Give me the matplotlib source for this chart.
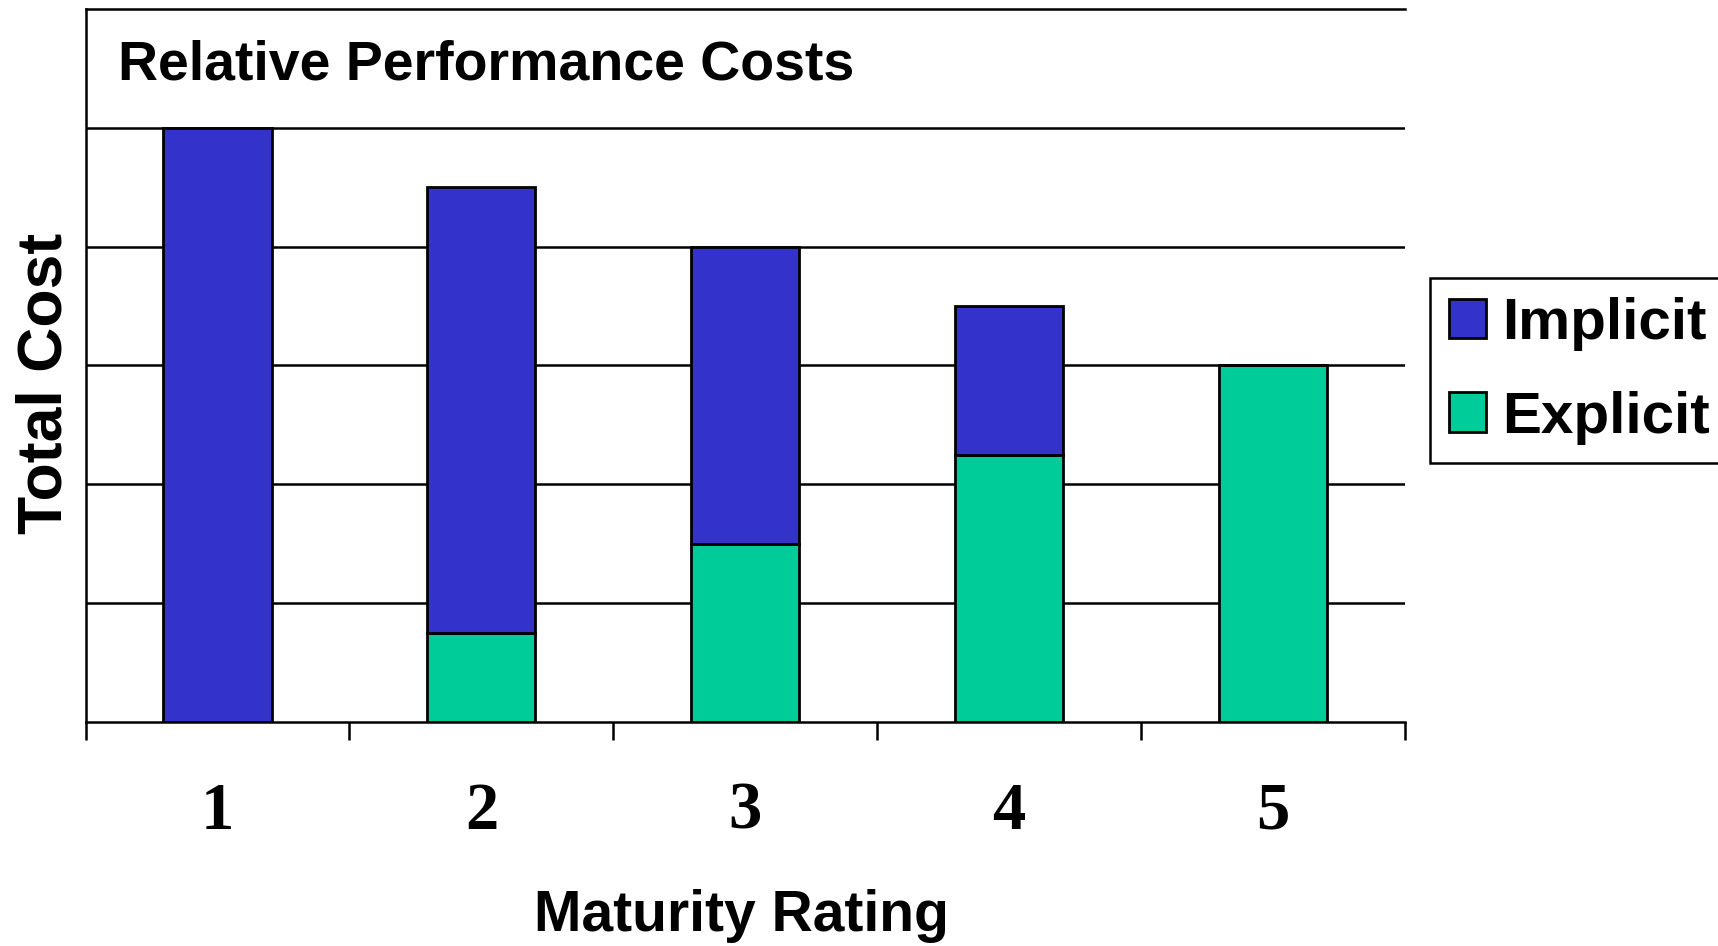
import numpy as np
import matplotlib.pyplot as plt
from matplotlib.ticker import FixedLocator

ratings = ['1', '2', '3', '4', '5']
explicit = [0, 0.75, 1.5, 2.25, 3]
implicit = [5, 3.75, 2.5, 1.25, 0]

blue = '#3333cc'
green = '#00cc99'
sans = 'Liberation Sans'
serif = 'Liberation Serif'

fig = plt.figure(figsize=(17.18, 9.46), dpi=100)
ax = fig.add_axes([0.0498, 0.2368, 0.7680, 0.7539])

x = np.arange(1, len(ratings) + 1)
w = 0.41
ax.bar(x, explicit, w, color=green, edgecolor='black', linewidth=2, label='Explicit', zorder=3)
ax.bar(x, implicit, w, bottom=explicit, color=blue, edgecolor='black', linewidth=2,
       label='Implicit', zorder=3)

ax.set_xlim(0.5, 5.5)
ax.set_ylim(0, 6)

# gridlines
for yv in range(1, 6):
    ax.axhline(yv, color='black', linewidth=1.8, zorder=1)

ax.spines['right'].set_visible(False)
for s in ['left', 'top', 'bottom']:
    ax.spines[s].set_linewidth(1.8)

ax.set_yticks([])
ax.set_xticks(x)
ax.set_xticklabels(ratings, fontfamily=serif, fontweight='bold', fontsize=48)
ax.tick_params(axis='x', which='major', length=0, pad=43)
ax.xaxis.set_minor_locator(FixedLocator(np.arange(0.5, 6.0, 1.0)))
ax.tick_params(axis='x', which='minor', length=13, width=1.8, direction='out')

ax.text(0.0243, 0.920, 'Relative Performance Costs', transform=ax.transAxes,
        fontfamily=sans, fontweight='bold', fontsize=40, va='center', ha='left')

ax.set_ylabel('Total Cost', fontfamily=sans, fontweight='bold', fontsize=45)
ax.yaxis.set_label_coords(-0.031, 0.4746)
ax.yaxis.label.set_va('center')
ax.set_xlabel('Maturity Rating', fontfamily=sans, fontweight='bold', fontsize=41)
ax.xaxis.set_label_coords(0.4974, -0.272)
ax.xaxis.label.set_va('center')

h, l = ax.get_legend_handles_labels()
leg = fig.legend(h[::-1], l[::-1], loc='upper left', bbox_to_anchor=(0.8324, 0.7058),
                 prop={'family': sans, 'weight': 'bold', 'size': 42},
                 frameon=True, fancybox=False, edgecolor='black', framealpha=1,
                 handlelength=0.64, handleheight=0.67, handletextpad=0.28,
                 borderpad=0.32, labelspacing=0.68, borderaxespad=0)
leg.get_frame().set_linewidth(1.8)

fig.savefig('out.png', dpi=100)
